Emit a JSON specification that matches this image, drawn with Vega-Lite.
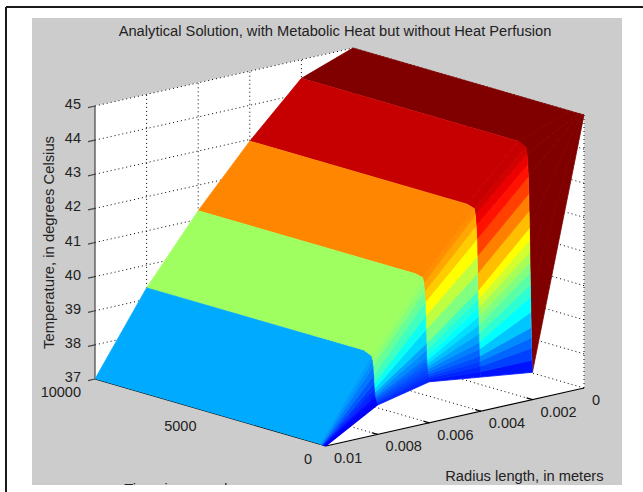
{
"$schema":"https://vega.github.io/schema/vega-lite/v6.json",
"width":590,"height":467,
"autosize":{"type":"none"},
"padding":{"left":32,"top":18,"right":21,"bottom":7},
"background":"#ffffff",
"view":{"fill":"#cccccc","stroke":null},
"title":{"text":"Analytical Solution, with Metabolic Heat but without Heat Perfusion","font":"Liberation Sans","fontSize":14.7,"fontWeight":"normal","color":"#222222","anchor":"middle","dx":8,"dy":18,"offset":-18},
"datasets":{
"walls":[
{"g":"floor","r":[0.01,0.01,0,0],"t":[10000,0,0,10000],"T":[37,37,37,37],"k":[0,1,2,3]},
{"g":"back","r":[0.01,0,0,0.01],"t":[10000,10000,10000,10000],"T":[37,37,45,45],"k":[0,1,2,3]},
{"g":"side","r":[0,0,0,0],"t":[10000,0,0,10000],"T":[37,37,45,45],"k":[0,1,2,3]}
],
"grid":[
{"g":"z38","r":[0.01,0,0],"t":[10000,10000,0],"T":[38,38,38],"k":[0,1,2]},
{"g":"z39","r":[0.01,0,0],"t":[10000,10000,0],"T":[39,39,39],"k":[0,1,2]},
{"g":"z40","r":[0.01,0,0],"t":[10000,10000,0],"T":[40,40,40],"k":[0,1,2]},
{"g":"z41","r":[0.01,0,0],"t":[10000,10000,0],"T":[41,41,41],"k":[0,1,2]},
{"g":"z42","r":[0.01,0,0],"t":[10000,10000,0],"T":[42,42,42],"k":[0,1,2]},
{"g":"z43","r":[0.01,0,0],"t":[10000,10000,0],"T":[43,43,43],"k":[0,1,2]},
{"g":"z44","r":[0.01,0,0],"t":[10000,10000,0],"T":[44,44,44],"k":[0,1,2]},
{"g":"z45","r":[0.01,0,0],"t":[10000,10000,0],"T":[45,45,45],"k":[0,1,2]},
{"g":"r0","r":[0,0,0],"t":[0,10000,10000],"T":[37,37,45],"k":[0,1,2]},
{"g":"r2","r":[0.002,0.002,0.002],"t":[0,10000,10000],"T":[37,37,45],"k":[0,1,2]},
{"g":"r4","r":[0.004,0.004,0.004],"t":[0,10000,10000],"T":[37,37,45],"k":[0,1,2]},
{"g":"r6","r":[0.006,0.006,0.006],"t":[0,10000,10000],"T":[37,37,45],"k":[0,1,2]},
{"g":"r8","r":[0.008,0.008,0.008],"t":[0,10000,10000],"T":[37,37,45],"k":[0,1,2]},
{"g":"t0","r":[0,0,0],"t":[0,0,0],"T":[37,45,45],"k":[0,1,2]},
{"g":"t5","r":[0.01,0,0],"t":[5000,5000,5000],"T":[37,37,45],"k":[0,1,2]}
],
"axes":[
{"g":"az","r":[0.01,0.01],"t":[10000,10000],"T":[37,45],"k":[0,1],"w":"#444444"},
{"g":"at","r":[0.01,0.01],"t":[10000,0],"T":[37,37],"k":[0,1],"w":"#000000"},
{"g":"ar","r":[0.01,0],"t":[0,0],"T":[37,37],"k":[0,1],"w":"#000000"},
{"g":"z37","r":[0.01,0.01027],"t":[10000,10000],"T":[37,37],"k":[0,1],"w":"#444444"},
{"g":"z38","r":[0.01,0.01027],"t":[10000,10000],"T":[38,38],"k":[0,1],"w":"#444444"},
{"g":"z39","r":[0.01,0.01027],"t":[10000,10000],"T":[39,39],"k":[0,1],"w":"#444444"},
{"g":"z40","r":[0.01,0.01027],"t":[10000,10000],"T":[40,40],"k":[0,1],"w":"#444444"},
{"g":"z41","r":[0.01,0.01027],"t":[10000,10000],"T":[41,41],"k":[0,1],"w":"#444444"},
{"g":"z42","r":[0.01,0.01027],"t":[10000,10000],"T":[42,42],"k":[0,1],"w":"#444444"},
{"g":"z43","r":[0.01,0.01027],"t":[10000,10000],"T":[43,43],"k":[0,1],"w":"#444444"},
{"g":"z44","r":[0.01,0.01027],"t":[10000,10000],"T":[44,44],"k":[0,1],"w":"#444444"},
{"g":"z45","r":[0.01,0.01027],"t":[10000,10000],"T":[45,45],"k":[0,1],"w":"#444444"},
{"g":"t5k","r":[0.01,0.0098],"t":[5000,5000],"T":[37,37],"k":[0,1],"w":"#000000"},
{"g":"r2k","r":[0.002,0.002],"t":[0,250],"T":[37,37],"k":[0,1],"w":"#000000"},
{"g":"r4k","r":[0.004,0.004],"t":[0,250],"T":[37,37],"k":[0,1],"w":"#000000"},
{"g":"r6k","r":[0.006,0.006],"t":[0,250],"T":[37,37],"k":[0,1],"w":"#000000"},
{"g":"r8k","r":[0.008,0.008],"t":[0,250],"T":[37,37],"k":[0,1],"w":"#000000"}
],
"surface":[
{"q":1,"ra":0.002,"rb":0,"t0":0,"t1":80,"a0":37.8,"b0":45,"a1":40,"b1":45},
{"q":2,"ra":0.002,"rb":0,"t0":80,"t1":130,"a0":40,"b0":45,"a1":42,"b1":45},
{"q":3,"ra":0.002,"rb":0,"t0":130,"t1":175,"a0":42,"b0":45,"a1":43.5,"b1":45},
{"q":4,"ra":0.002,"rb":0,"t0":175,"t1":235,"a0":43.5,"b0":45,"a1":44.15,"b1":45},
{"q":5,"ra":0.002,"rb":0,"t0":235,"t1":600,"a0":44.15,"b0":45,"a1":44.45,"b1":45},
{"q":6,"ra":0.002,"rb":0,"t0":600,"t1":10000,"a0":44.45,"b0":45,"a1":44.45,"b1":45},

{"q":10,"ra":0.004,"rb":0.002,"t0":0,"t1":25,"a0":38,"b0":37.8,"a1":38.15,"b1":38.15},
{"q":11,"ra":0.004,"rb":0.002,"t0":25,"t1":40,"a0":38.15,"b0":38.15,"a1":38.3,"b1":38.5},
{"q":12,"ra":0.004,"rb":0.002,"t0":40,"t1":50,"a0":38.3,"b0":38.5,"a1":38.45,"b1":38.8},
{"q":13,"ra":0.004,"rb":0.002,"t0":50,"t1":60,"a0":38.45,"b0":38.8,"a1":38.6,"b1":39.1},
{"q":14,"ra":0.004,"rb":0.002,"t0":60,"t1":70,"a0":38.6,"b0":39.1,"a1":38.8,"b1":39.55},
{"q":15,"ra":0.004,"rb":0.002,"t0":70,"t1":80,"a0":38.8,"b0":39.55,"a1":39,"b1":40},
{"q":16,"ra":0.004,"rb":0.002,"t0":80,"t1":90,"a0":39,"b0":40,"a1":39.25,"b1":40.35},
{"q":17,"ra":0.004,"rb":0.002,"t0":90,"t1":100,"a0":39.25,"b0":40.35,"a1":39.5,"b1":40.7},
{"q":18,"ra":0.004,"rb":0.002,"t0":100,"t1":108,"a0":39.5,"b0":40.7,"a1":39.75,"b1":41},
{"q":19,"ra":0.004,"rb":0.002,"t0":108,"t1":115,"a0":39.75,"b0":41,"a1":40,"b1":41.3},
{"q":20,"ra":0.004,"rb":0.002,"t0":115,"t1":122,"a0":40,"b0":41.3,"a1":40.25,"b1":41.65},
{"q":21,"ra":0.004,"rb":0.002,"t0":122,"t1":130,"a0":40.25,"b0":41.65,"a1":40.5,"b1":42},
{"q":22,"ra":0.004,"rb":0.002,"t0":130,"t1":145,"a0":40.5,"b0":42,"a1":41,"b1":42.5},
{"q":23,"ra":0.004,"rb":0.002,"t0":145,"t1":160,"a0":41,"b0":42.5,"a1":41.5,"b1":43},
{"q":24,"ra":0.004,"rb":0.002,"t0":160,"t1":175,"a0":41.5,"b0":43,"a1":42,"b1":43.5},
{"q":25,"ra":0.004,"rb":0.002,"t0":175,"t1":205,"a0":42,"b0":43.5,"a1":42.4,"b1":43.85},
{"q":26,"ra":0.004,"rb":0.002,"t0":205,"t1":235,"a0":42.4,"b0":43.85,"a1":42.7,"b1":44.15},
{"q":27,"ra":0.004,"rb":0.002,"t0":235,"t1":290,"a0":42.7,"b0":44.15,"a1":42.88,"b1":44.35},
{"q":28,"ra":0.004,"rb":0.002,"t0":290,"t1":600,"a0":42.88,"b0":44.35,"a1":42.95,"b1":44.45},
{"q":29,"ra":0.004,"rb":0.002,"t0":600,"t1":10000,"a0":42.95,"b0":44.45,"a1":42.95,"b1":44.45},

{"q":30,"ra":0.006,"rb":0.004,"t0":0,"t1":25,"a0":38.2,"b0":38,"a1":38.25,"b1":38.15},
{"q":31,"ra":0.006,"rb":0.004,"t0":25,"t1":40,"a0":38.25,"b0":38.15,"a1":38.3,"b1":38.3},
{"q":32,"ra":0.006,"rb":0.004,"t0":40,"t1":50,"a0":38.3,"b0":38.3,"a1":38.35,"b1":38.45},
{"q":33,"ra":0.006,"rb":0.004,"t0":50,"t1":60,"a0":38.35,"b0":38.45,"a1":38.4,"b1":38.6},
{"q":34,"ra":0.006,"rb":0.004,"t0":60,"t1":70,"a0":38.4,"b0":38.6,"a1":38.47,"b1":38.8},
{"q":35,"ra":0.006,"rb":0.004,"t0":70,"t1":80,"a0":38.47,"b0":38.8,"a1":38.55,"b1":39},
{"q":36,"ra":0.006,"rb":0.004,"t0":80,"t1":90,"a0":38.55,"b0":39,"a1":38.62,"b1":39.25},
{"q":37,"ra":0.006,"rb":0.004,"t0":90,"t1":100,"a0":38.62,"b0":39.25,"a1":38.7,"b1":39.5},
{"q":38,"ra":0.006,"rb":0.004,"t0":100,"t1":108,"a0":38.7,"b0":39.5,"a1":38.8,"b1":39.75},
{"q":39,"ra":0.006,"rb":0.004,"t0":108,"t1":115,"a0":38.8,"b0":39.75,"a1":38.9,"b1":40},
{"q":40,"ra":0.006,"rb":0.004,"t0":115,"t1":122,"a0":38.9,"b0":40,"a1":39.1,"b1":40.25},
{"q":41,"ra":0.006,"rb":0.004,"t0":122,"t1":130,"a0":39.1,"b0":40.25,"a1":39.3,"b1":40.5},
{"q":42,"ra":0.006,"rb":0.004,"t0":130,"t1":145,"a0":39.3,"b0":40.5,"a1":39.7,"b1":41},
{"q":43,"ra":0.006,"rb":0.004,"t0":145,"t1":160,"a0":39.7,"b0":41,"a1":40.1,"b1":41.5},
{"q":44,"ra":0.006,"rb":0.004,"t0":160,"t1":175,"a0":40.1,"b0":41.5,"a1":40.5,"b1":42},
{"q":45,"ra":0.006,"rb":0.004,"t0":175,"t1":205,"a0":40.5,"b0":42,"a1":40.8,"b1":42.4},
{"q":46,"ra":0.006,"rb":0.004,"t0":205,"t1":235,"a0":40.8,"b0":42.4,"a1":41.05,"b1":42.7},
{"q":47,"ra":0.006,"rb":0.004,"t0":235,"t1":290,"a0":41.05,"b0":42.7,"a1":41.2,"b1":42.88},
{"q":48,"ra":0.006,"rb":0.004,"t0":290,"t1":600,"a0":41.2,"b0":42.88,"a1":41.25,"b1":42.95},
{"q":49,"ra":0.006,"rb":0.004,"t0":600,"t1":10000,"a0":41.25,"b0":42.95,"a1":41.25,"b1":42.95},

{"q":50,"ra":0.008,"rb":0.006,"t0":0,"t1":25,"a0":37.86,"b0":38.2,"a1":37.87,"b1":38.25},
{"q":51,"ra":0.008,"rb":0.006,"t0":25,"t1":40,"a0":37.87,"b0":38.25,"a1":37.89,"b1":38.3},
{"q":52,"ra":0.008,"rb":0.006,"t0":40,"t1":50,"a0":37.89,"b0":38.3,"a1":37.9,"b1":38.35},
{"q":53,"ra":0.008,"rb":0.006,"t0":50,"t1":60,"a0":37.9,"b0":38.35,"a1":37.92,"b1":38.4},
{"q":54,"ra":0.008,"rb":0.006,"t0":60,"t1":70,"a0":37.92,"b0":38.4,"a1":37.95,"b1":38.47},
{"q":55,"ra":0.008,"rb":0.006,"t0":70,"t1":80,"a0":37.95,"b0":38.47,"a1":37.97,"b1":38.55},
{"q":56,"ra":0.008,"rb":0.006,"t0":80,"t1":90,"a0":37.97,"b0":38.55,"a1":38,"b1":38.62},
{"q":57,"ra":0.008,"rb":0.006,"t0":90,"t1":100,"a0":38,"b0":38.62,"a1":38.02,"b1":38.7},
{"q":58,"ra":0.008,"rb":0.006,"t0":100,"t1":108,"a0":38.02,"b0":38.7,"a1":38.05,"b1":38.8},
{"q":59,"ra":0.008,"rb":0.006,"t0":108,"t1":115,"a0":38.05,"b0":38.8,"a1":38.07,"b1":38.9},
{"q":60,"ra":0.008,"rb":0.006,"t0":115,"t1":122,"a0":38.07,"b0":38.9,"a1":38.13,"b1":39.1},
{"q":61,"ra":0.008,"rb":0.006,"t0":122,"t1":130,"a0":38.13,"b0":39.1,"a1":38.2,"b1":39.3},
{"q":62,"ra":0.008,"rb":0.006,"t0":130,"t1":145,"a0":38.2,"b0":39.3,"a1":38.3,"b1":39.7},
{"q":63,"ra":0.008,"rb":0.006,"t0":145,"t1":160,"a0":38.3,"b0":39.7,"a1":38.45,"b1":40.1},
{"q":64,"ra":0.008,"rb":0.006,"t0":160,"t1":175,"a0":38.45,"b0":40.1,"a1":38.7,"b1":40.5},
{"q":65,"ra":0.008,"rb":0.006,"t0":175,"t1":205,"a0":38.7,"b0":40.5,"a1":38.95,"b1":40.8},
{"q":66,"ra":0.008,"rb":0.006,"t0":205,"t1":235,"a0":38.95,"b0":40.8,"a1":39.12,"b1":41.05},
{"q":67,"ra":0.008,"rb":0.006,"t0":235,"t1":290,"a0":39.12,"b0":41.05,"a1":39.24,"b1":41.2},
{"q":68,"ra":0.008,"rb":0.006,"t0":290,"t1":600,"a0":39.24,"b0":41.2,"a1":39.33,"b1":41.25},
{"q":69,"ra":0.008,"rb":0.006,"t0":600,"t1":10000,"a0":39.33,"b0":41.25,"a1":39.33,"b1":41.25},

{"q":70,"ra":0.01,"rb":0.008,"t0":0,"t1":25,"a0":37,"b0":37.86,"a1":37,"b1":37.87},
{"q":71,"ra":0.01,"rb":0.008,"t0":25,"t1":40,"a0":37,"b0":37.87,"a1":37,"b1":37.89},
{"q":72,"ra":0.01,"rb":0.008,"t0":40,"t1":50,"a0":37,"b0":37.89,"a1":37,"b1":37.9},
{"q":73,"ra":0.01,"rb":0.008,"t0":50,"t1":60,"a0":37,"b0":37.9,"a1":37,"b1":37.92},
{"q":74,"ra":0.01,"rb":0.008,"t0":60,"t1":70,"a0":37,"b0":37.92,"a1":37,"b1":37.95},
{"q":75,"ra":0.01,"rb":0.008,"t0":70,"t1":80,"a0":37,"b0":37.95,"a1":37,"b1":37.97},
{"q":76,"ra":0.01,"rb":0.008,"t0":80,"t1":90,"a0":37,"b0":37.97,"a1":37,"b1":38},
{"q":77,"ra":0.01,"rb":0.008,"t0":90,"t1":100,"a0":37,"b0":38,"a1":37,"b1":38.02},
{"q":78,"ra":0.01,"rb":0.008,"t0":100,"t1":108,"a0":37,"b0":38.02,"a1":37,"b1":38.05},
{"q":79,"ra":0.01,"rb":0.008,"t0":108,"t1":115,"a0":37,"b0":38.05,"a1":37,"b1":38.07},
{"q":80,"ra":0.01,"rb":0.008,"t0":115,"t1":122,"a0":37,"b0":38.07,"a1":37,"b1":38.13},
{"q":81,"ra":0.01,"rb":0.008,"t0":122,"t1":130,"a0":37,"b0":38.13,"a1":37,"b1":38.2},
{"q":82,"ra":0.01,"rb":0.008,"t0":130,"t1":145,"a0":37,"b0":38.2,"a1":37,"b1":38.3},
{"q":83,"ra":0.01,"rb":0.008,"t0":145,"t1":160,"a0":37,"b0":38.3,"a1":37,"b1":38.45},
{"q":84,"ra":0.01,"rb":0.008,"t0":160,"t1":175,"a0":37,"b0":38.45,"a1":37,"b1":38.7},
{"q":85,"ra":0.01,"rb":0.008,"t0":175,"t1":205,"a0":37,"b0":38.7,"a1":37,"b1":38.95},
{"q":86,"ra":0.01,"rb":0.008,"t0":205,"t1":235,"a0":37,"b0":38.95,"a1":37,"b1":39.12},
{"q":87,"ra":0.01,"rb":0.008,"t0":235,"t1":290,"a0":37,"b0":39.12,"a1":37,"b1":39.24},
{"q":88,"ra":0.01,"rb":0.008,"t0":290,"t1":600,"a0":37,"b0":39.24,"a1":37,"b1":39.33},
{"q":89,"ra":0.01,"rb":0.008,"t0":600,"t1":10000,"a0":37,"b0":39.33,"a1":37,"b1":39.33}
],
"zlabels":[
{"s":"37","r":0.01,"t":10000,"T":37},{"s":"38","r":0.01,"t":10000,"T":38},{"s":"39","r":0.01,"t":10000,"T":39},
{"s":"40","r":0.01,"t":10000,"T":40},{"s":"41","r":0.01,"t":10000,"T":41},{"s":"42","r":0.01,"t":10000,"T":42},
{"s":"43","r":0.01,"t":10000,"T":43},{"s":"44","r":0.01,"t":10000,"T":44},{"s":"45","r":0.01,"t":10000,"T":45}
],
"tlabels":[
{"s":"10000","r":0.01,"t":10000,"T":37},{"s":"5000","r":0.01,"t":5000,"T":37},{"s":"0","r":0.01,"t":0,"T":37}
],
"rlabels":[
{"s":"0.01","r":0.01,"t":0,"T":37},{"s":"0.008","r":0.008,"t":0,"T":37},{"s":"0.006","r":0.006,"t":0,"T":37},
{"s":"0.004","r":0.004,"t":0,"T":37},{"s":"0.002","r":0.002,"t":0,"T":37},{"s":"0","r":0,"t":0,"T":37}
],
"frame":[
{"g":"top","fx":6,"fy":7},{"g":"top","fx":643,"fy":7},
{"g":"left","fx":6,"fy":7},{"g":"left","fx":6,"fy":492}
]
},
"encoding":{
"x":{"field":"px","type":"quantitative","scale":{"domain":[32,622],"nice":false,"zero":false},"axis":null},
"y":{"field":"py","type":"quantitative","scale":{"domain":[485,18],"nice":false,"zero":false},"axis":null}
},
"layer":[
{"data":{"name":"frame"},
 "transform":[{"calculate":"datum.fx","as":"px"},{"calculate":"datum.fy","as":"py"}],
 "mark":{"type":"line","color":"#1a1a1a","strokeWidth":2},
 "encoding":{"detail":{"field":"g"}}},
{"data":{"name":"walls"},
 "transform":[{"flatten":["r","t","T","k"]},
  {"calculate":"95+231*(1-datum.t/10000)+258*(1-datum.r*100)","as":"px"},
  {"calculate":"379+67*(1-datum.t/10000)-58*(1-datum.r*100)-34.125*(datum.T-37)","as":"py"}],
 "mark":{"type":"line","filled":true,"fill":"#ffffff","stroke":"#ffffff","strokeWidth":0.5},
 "encoding":{"detail":{"field":"g"},"order":{"field":"k","type":"quantitative"}}},
{"data":{"name":"grid"},
 "transform":[{"flatten":["r","t","T","k"]},
  {"calculate":"95+231*(1-datum.t/10000)+258*(1-datum.r*100)","as":"px"},
  {"calculate":"379+67*(1-datum.t/10000)-58*(1-datum.r*100)-34.125*(datum.T-37)","as":"py"}],
 "mark":{"type":"line","color":"#000000","strokeWidth":1,"strokeDash":[1,3]},
 "encoding":{"detail":{"field":"g"},"order":{"field":"k","type":"quantitative"}}},
{"data":{"name":"axes"},
 "transform":[{"flatten":["r","t","T","k"]},
  {"calculate":"95+231*(1-datum.t/10000)+258*(1-datum.r*100)","as":"px"},
  {"calculate":"379+67*(1-datum.t/10000)-58*(1-datum.r*100)-34.125*(datum.T-37)","as":"py"}],
 "mark":{"type":"line","strokeWidth":1.2},
 "encoding":{"detail":{"field":"g"},"order":{"field":"k","type":"quantitative"},"color":{"field":"w","type":"nominal","scale":null,"legend":null}}},
{"data":{"name":"surface"},
 "transform":[
  {"calculate":"[datum.ra,datum.rb,datum.rb,datum.ra]","as":"r"},
  {"calculate":"[datum.t0,datum.t0,datum.t1,datum.t1]","as":"t"},
  {"calculate":"[datum.a0,datum.b0,datum.b1,datum.a1]","as":"T"},
  {"calculate":"[0,1,2,3]","as":"k"},
  {"flatten":["r","t","T","k"]},
  {"calculate":"95+231*(1-datum.t/10000)+258*(1-datum.r*100)","as":"px"},
  {"calculate":"379+67*(1-datum.t/10000)-58*(1-datum.r*100)-34.125*(datum.T-37)","as":"py"}],
 "mark":{"type":"line","filled":true,"strokeWidth":0.8,"strokeJoin":"round"},
 "encoding":{
  "detail":{"field":"q","type":"nominal"},
  "order":{"field":"k","type":"quantitative"},
  "fill":{"field":"b1","type":"quantitative","legend":null,"scale":{"interpolate":"rgb","domain":[37,38,40,42,44,45],"range":["#00008f","#0000ff","#00ffff","#ffff00","#ff0000","#800000"]}},
  "stroke":{"field":"b1","type":"quantitative","legend":null,"scale":{"interpolate":"rgb","domain":[37,38,40,42,44,45],"range":["#00008f","#0000ff","#00ffff","#ffff00","#ff0000","#800000"]}}
 }},
{"data":{"name":"zlabels"},
 "transform":[
  {"calculate":"95+231*(1-datum.t/10000)+258*(1-datum.r*100)","as":"px"},
  {"calculate":"379+67*(1-datum.t/10000)-58*(1-datum.r*100)-34.125*(datum.T-37)","as":"py"}],
 "mark":{"type":"text","font":"Liberation Sans","fontSize":14.5,"color":"#222222","align":"right","baseline":"middle","dx":-14,"dy":-1},
 "encoding":{"text":{"field":"s"}}},
{"data":{"name":"tlabels"},
 "transform":[
  {"calculate":"95+231*(1-datum.t/10000)+258*(1-datum.r*100)","as":"px"},
  {"calculate":"379+67*(1-datum.t/10000)-58*(1-datum.r*100)-34.125*(datum.T-37)","as":"py"}],
 "mark":{"type":"text","font":"Liberation Sans","fontSize":14.5,"color":"#222222","align":"right","baseline":"middle","dx":-14,"dy":14},
 "encoding":{"text":{"field":"s"}}},
{"data":{"name":"rlabels"},
 "transform":[
  {"calculate":"95+231*(1-datum.t/10000)+258*(1-datum.r*100)","as":"px"},
  {"calculate":"379+67*(1-datum.t/10000)-58*(1-datum.r*100)-34.125*(datum.T-37)","as":"py"}],
 "mark":{"type":"text","font":"Liberation Sans","fontSize":14.5,"color":"#222222","align":"left","baseline":"middle","dx":8,"dy":13},
 "encoding":{"text":{"field":"s"}}},
{"data":{"values":[{"s":"Temperature, in degrees Celsius","r":0.01,"t":10000,"T":41}]},
 "transform":[
  {"calculate":"95+231*(1-datum.t/10000)+258*(1-datum.r*100)","as":"px"},
  {"calculate":"379+67*(1-datum.t/10000)-58*(1-datum.r*100)-34.125*(datum.T-37)","as":"py"}],
 "mark":{"type":"text","font":"Liberation Sans","fontSize":14.8,"color":"#222222","align":"center","baseline":"middle","angle":270,"dy":-45},
 "encoding":{"text":{"field":"s"}}},
{"data":{"values":[{"s":"Radius length, in meters","r":0.002,"t":0,"T":37}]},
 "transform":[
  {"calculate":"95+231*(1-datum.t/10000)+258*(1-datum.r*100)","as":"px"},
  {"calculate":"379+67*(1-datum.t/10000)-58*(1-datum.r*100)-34.125*(datum.T-37)","as":"py"}],
 "mark":{"type":"text","font":"Liberation Sans","fontSize":14.7,"color":"#222222","align":"center","baseline":"middle","dx":-8,"dy":77},
 "encoding":{"text":{"field":"s"}}},
{"data":{"values":[{"s":"Time, in seconds","r":0.01,"t":5000,"T":37}]},
 "transform":[
  {"calculate":"95+231*(1-datum.t/10000)+258*(1-datum.r*100)","as":"px"},
  {"calculate":"379+67*(1-datum.t/10000)-58*(1-datum.r*100)-34.125*(datum.T-37)","as":"py"}],
 "mark":{"type":"text","font":"Liberation Sans","fontSize":14.7,"color":"#222222","align":"center","baseline":"middle","clip":true,"dx":-31,"dy":77},
 "encoding":{"text":{"field":"s"}}}
]
}
